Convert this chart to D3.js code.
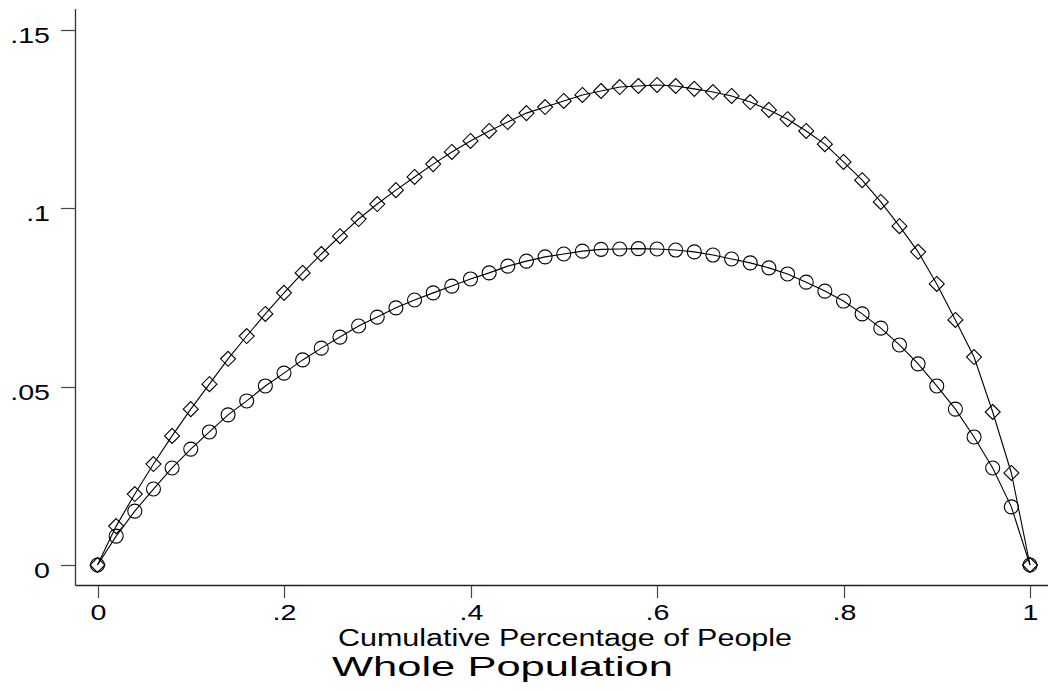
<!DOCTYPE html>
<html>
<head>
<meta charset="utf-8">
<script src="https://cdn.jsdelivr.net/npm/d3@7"></script>
<style>
  html, body { margin: 0; padding: 0; background: #fff; }
  svg { display: block; }
  text { font-family: "Liberation Sans", Arial, sans-serif; fill: #000; }
</style>
</head>
<body>
<svg id="chart" width="1048" height="691"></svg>
<script>
// Cumulative share of people (x) for both curves
const shares = [0, .02, .04, .06, .08, .10, .12, .14, .16, .18, .20, .22, .24, .26, .28, .30,
  .32, .34, .36, .38, .40, .42, .44, .46, .48, .50, .52, .54, .56, .58, .60, .62, .64, .66,
  .68, .70, .72, .74, .76, .78, .80, .82, .84, .86, .88, .90, .92, .94, .96, .98, 1];

// Upper curve (diamond markers)
const upperCurve = [0, .0109, .0199, .0283, .0362, .0437, .0507, .0578, .0642, .0704, .0763,
  .0819, .0872, .0922, .0970, .1012, .1051, .1088, .1124, .1158, .1189, .1217, .1242, .1267,
  .1284, .1301, .1318, .1329, .1340, .1343, .1346, .1343, .1335, .1326, .1315, .1298, .1276,
  .1250, .1217, .1180, .1130, .1079, .1018, .0950, .0878, .0788, .0687, .0583, .0429, .0258, 0];

// Lower curve (circle markers)
const lowerCurve = [0, .0081, .0151, .0213, .0272, .0325, .0373, .0421, .0460, .0502, .0538,
  .0575, .0608, .0639, .0670, .0695, .0721, .0743, .0763, .0782, .0802, .0819, .0838, .0852,
  .0864, .0872, .0880, .0885, .0886, .0887, .0886, .0883, .0878, .0869, .0858, .0847, .0833,
  .0816, .0793, .0768, .0740, .0704, .0664, .0617, .0564, .0502, .0437, .0359, .0272, .0163, 0];

const xTicks = [0, .2, .4, .6, .8, 1];
const xTickLabels = ["0", ".2", ".4", ".6", ".8", "1"];
const yTicks = [0, .05, .1, .15];
const yTickLabels = ["0", ".05", ".1", ".15"];

const xTitle = "Cumulative Percentage of People";
const chartTitle = "Whole Population";

const svg = d3.select("#chart");

const x = d3.scaleLinear().domain([0, 1]).range([97.5, 1030]);
const y = d3.scaleLinear().domain([0, 0.15]).range([565, 30]);

const axisX = 75.5, axisY = 585.5;
const stretch = 1.3; // wide glyphs

// Axis lines
svg.append("line")
  .attr("x1", axisX).attr("x2", axisX).attr("y1", 9).attr("y2", axisY)
  .attr("stroke", "#333").attr("stroke-width", 1.3);
svg.append("line")
  .attr("x1", axisX).attr("x2", 1048).attr("y1", axisY).attr("y2", axisY)
  .attr("stroke", "#222").attr("stroke-width", 1.5);

// Y axis ticks and labels
const yg = svg.append("g");
yTicks.forEach((t, i) => {
  const py = Math.round(y(t)) + 0.5;
  yg.append("line").attr("x1", 61).attr("x2", axisX).attr("y1", py).attr("y2", py)
    .attr("stroke", "#444").attr("stroke-width", 1.2);
  yg.append("text")
    .attr("transform", `translate(50,${py + 12}) scale(${stretch},1)`)
    .attr("text-anchor", "end")
    .attr("font-size", 22)
    .text(yTickLabels[i]);
});

// X axis ticks and labels
const xg = svg.append("g");
xTicks.forEach((t, i) => {
  const px = Math.round(x(t)) + 0.5;
  xg.append("line").attr("x1", px).attr("x2", px).attr("y1", axisY).attr("y2", 598)
    .attr("stroke", "#444").attr("stroke-width", 1.2);
  xg.append("text")
    .attr("transform", `translate(${px},620) scale(${stretch},1)`)
    .attr("text-anchor", "middle")
    .attr("font-size", 22)
    .text(xTickLabels[i]);
});

// Axis title and chart title
svg.append("text")
  .attr("x", 338).attr("y", 646)
  .attr("font-size", 23)
  .attr("textLength", 454).attr("lengthAdjust", "spacingAndGlyphs")
  .text(xTitle);
svg.append("text")
  .attr("x", 332).attr("y", 676)
  .attr("font-size", 28)
  .attr("textLength", 341).attr("lengthAdjust", "spacingAndGlyphs")
  .text(chartTitle);

// Curves
const line = d3.line().x(d => x(d[0])).y(d => y(d[1]));
const upperPts = shares.map((s, i) => [s, upperCurve[i]]);
const lowerPts = shares.map((s, i) => [s, lowerCurve[i]]);

[upperPts, lowerPts].forEach(pts => {
  svg.append("path").datum(pts)
    .attr("d", line)
    .attr("fill", "none").attr("stroke", "#000").attr("stroke-width", 1.1);
});

// Circle markers
svg.append("g").selectAll("circle").data(lowerPts).join("circle")
  .attr("cx", d => x(d[0])).attr("cy", d => y(d[1])).attr("r", 7)
  .attr("fill", "none").attr("stroke", "#000").attr("stroke-width", 1.1);

// Diamond markers
const dsize = 7.5;
svg.append("g").selectAll("path").data(upperPts).join("path")
  .attr("transform", d => `translate(${x(d[0])},${y(d[1])})`)
  .attr("d", `M0,${-dsize}L${dsize},0L0,${dsize}L${-dsize},0Z`)
  .attr("fill", "none").attr("stroke", "#000").attr("stroke-width", 1.1);
</script>
</body>
</html>
